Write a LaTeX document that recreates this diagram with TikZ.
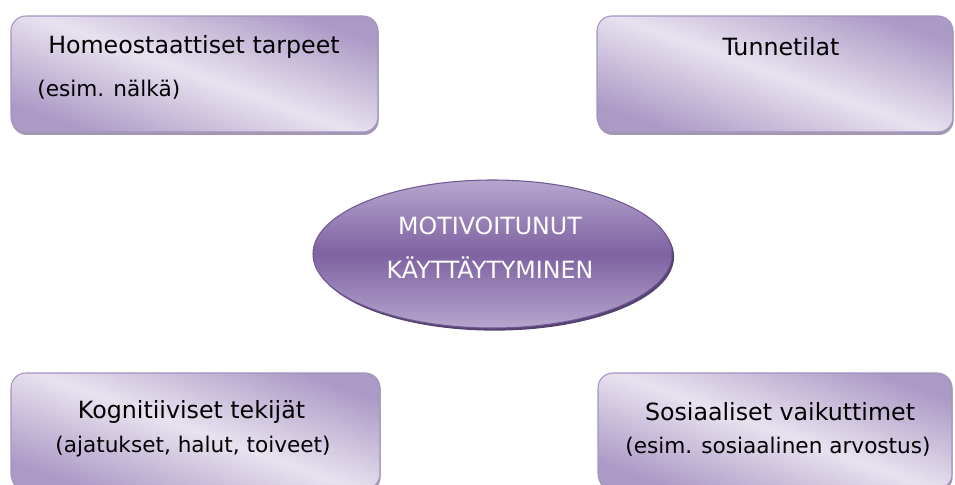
\documentclass[tikz,border=0pt]{standalone}
\usepackage{fontspec}
\setmainfont{DejaVu Sans}
\usepackage{tikz}
\usetikzlibrary{shapes.geometric, shadows}
\definecolor{lilacdark}{RGB}{172, 154, 198}
\definecolor{lilaclight}{RGB}{232, 226, 239}
\definecolor{lilacedge}{RGB}{164, 148, 192}
\definecolor{lilacshadow}{RGB}{164, 152, 176}
\definecolor{purplemid}{RGB}{126, 98, 161}
\definecolor{purpletop}{RGB}{182, 166, 206}
\definecolor{purpleedge}{RGB}{112, 88, 148}
\definecolor{purpleshadow}{RGB}{86, 66, 112}

\tikzset{
  factor/.style={rectangle, rounded corners=0.3cm, draw=lilacedge, line width=0.6pt,
    top color=lilacdark, bottom color=lilacdark, middle color=lilaclight, shading angle=-20,
    drop shadow={shadow xshift=0.4pt, shadow yshift=-1.7pt, fill=lilacshadow, opacity=1},
    minimum height=2.32cm, inner sep=0pt},
  core/.style={ellipse, draw=purpleedge, line width=0.6pt,
    top color=purpletop, bottom color=purpletop, middle color=purplemid,
    drop shadow={shadow xshift=1.2pt, shadow yshift=-1.5pt, fill=purpleshadow, opacity=1},
    minimum width=7.18cm, minimum height=2.96cm, inner sep=0pt},
  head/.style={font=\fontsize{13.5}{16}\selectfont, inner sep=0pt},
  note/.style={font=\fontsize{12.3}{15}\selectfont, inner sep=0pt},
  corelabel/.style={head, text=white}
}

\begin{document}
\begin{tikzpicture}
\useasboundingbox (0,0) rectangle (19.1,9.7);
\node[factor, minimum width=7.34cm] (homeo) at (3.89,8.22) {};
\node[factor, minimum width=7.12cm] (tunne) at (15.50,8.22) {};
\node[factor, minimum width=7.38cm] (kogn) at (3.91,1.08) {};
\node[factor, minimum width=7.08cm] (sosi) at (15.50,1.08) {};
\node[core] (motiv) at (9.85,4.62) {};

\node[head] (homeot) at (3.88,8.76) {Homeostaattiset tarpeet};
\node[note, anchor=west] (homeoe) at (0.74,7.90) {(esim. nälkä)};
\node[head] (tunnet) at (15.62,8.76) {Tunnetilat};
\node[head] (kognt) at (3.83,1.46) {Kognitiiviset tekijät};
\node[note] (kogne) at (3.86,0.76) {(ajatukset, halut, toiveet)};
\node[head] (sosit) at (15.60,1.46) {Sosiaaliset vaikuttimet};
\node[note] (sosie) at (15.56,0.76) {(esim. sosiaalinen arvostus)};
\node[corelabel] (motivt) at (9.80,5.18) {MOTIVOITUNUT};
\node[corelabel] (motivb) at (9.80,4.34) {KÄYTTÄYTYMINEN};
\end{tikzpicture}
\end{document}
